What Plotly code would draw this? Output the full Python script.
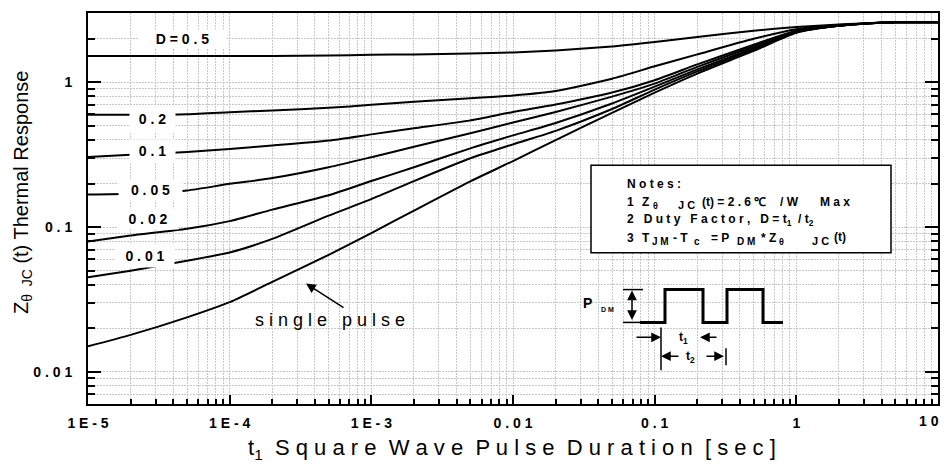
import plotly.graph_objects as go

# pulse duration t1 [sec]
t = [1e-5, 2e-5, 5e-5, 1e-4, 2e-4, 5e-4, 1e-3, 2e-3, 5e-3, 1e-2,
     2e-2, 5e-2, 0.1, 0.2, 0.5, 1, 2, 5, 10]

# Z_theta_JC(t) for each duty factor
z_d050 = [1.52, 1.52, 1.52, 1.52, 1.52, 1.53, 1.55, 1.56, 1.58, 1.61,
          1.66, 1.77, 1.90, 2.06, 2.27, 2.41, 2.51, 2.60, 2.60]
z_d020 = [0.597, 0.597, 0.602, 0.621, 0.640, 0.667, 0.699, 0.733, 0.776, 0.810,
          0.870, 1.06, 1.29, 1.56, 2.00, 2.33, 2.49, 2.60, 2.60]
z_d010 = [0.305, 0.316, 0.330, 0.347, 0.366, 0.396, 0.437, 0.481, 0.546, 0.624,
          0.703, 0.85, 1.035, 1.33, 1.82, 2.27, 2.46, 2.60, 2.60]
z_d005 = [0.168, 0.170, 0.179, 0.199, 0.218, 0.259, 0.304, 0.359, 0.445, 0.528,
          0.624, 0.797, 0.98, 1.28, 1.77, 2.25, 2.46, 2.60, 2.60]
z_d002 = [0.0795, 0.0874, 0.0975, 0.110, 0.132, 0.166, 0.208, 0.259, 0.350, 0.430,
          0.524, 0.714, 0.934, 1.23, 1.72, 2.23, 2.46, 2.60, 2.60]
z_d001 = [0.045, 0.050, 0.0586, 0.0668, 0.0829, 0.120, 0.156, 0.208, 0.299, 0.373,
          0.462, 0.654, 0.891, 1.19, 1.69, 2.22, 2.46, 2.60, 2.60]
z_single = [0.0150, 0.0180, 0.0238, 0.0303, 0.0418, 0.0643, 0.091, 0.130, 0.207, 0.286,
            0.399, 0.616, 0.849, 1.15, 1.65, 2.20, 2.46, 2.60, 2.60]

curves = [z_d050, z_d020, z_d010, z_d005, z_d002, z_d001, z_single]

x_ticks = [1e-5, 1e-4, 1e-3, 1e-2, 0.1, 1, 10]
# last label is drawn separately so it stays inside the window
x_ticktext = ["1 E - 5", "1 E - 4", "1 E - 3", "0 . 0 1", "0 . 1", "1", ""]
last_xlabel = "1 0"
y_ticks = [0.01, 0.1, 1]
y_ticktext = ["0 . 0 1", "0 . 1", "1"]

FONT = "Liberation Sans, Arial, sans-serif"
GRID = "#c8c8c8"

# page is shown with the 8px body margin; plot area in page pixels
OFF = 8
L, R, T, B = 88, 938, 11, 404
W, H = 950 - OFF, 468 - OFF


def px(x):
    return (x - L) / (R - L)


def py(y):
    return (B - y) / (B - T)


x_minor = [m * 10 ** e for e in range(-5, 1) for m in range(2, 10)]
y_minor = [m * 10 ** e for e in range(-3, 1) for m in range(2, 10)]

fig = go.Figure()
for z in curves:
    fig.add_trace(go.Scatter(x=t, y=z, mode="lines",
                             line=dict(color="black", width=2, shape="spline", smoothing=0.6),
                             hoverinfo="skip"))

ann = []


def text(x, y, s, size=13, bold=True, xanchor="center", **kw):
    ann.append(dict(xref="paper", yref="paper", x=px(x), y=py(y), text=s, showarrow=False,
                    xanchor=xanchor, yanchor="middle",
                    font=dict(family=FONT, size=size, color="black",
                              weight="bold" if bold else "normal"), **kw))


text(941, 421, last_xlabel, size=14, xanchor="right")

# curve labels with white boxes
for lab, cx, cy, w, h in [("D = 0 . 5", 182, 37, 87, 18), ("0 . 2", 152, 118, 45, 24),
                          ("0 . 1", 152, 150, 45, 22), ("0 . 0 5", 150, 189, 63, 20),
                          ("0 . 0 2", 148, 218, 60, 20), ("0 . 0 1", 145, 255, 58, 22)]:
    text(cx, cy, lab, size=14, bgcolor="white", width=w, height=h, borderpad=0)

text(330, 320, "s i n g l e   p u l s e", size=18, bold=False)

# notes box, pieces placed along each line
notes = [
    (625, 183, "N o t e s :", 12),
    (625, 201, "1", 12), (640, 201, "Z", 12), (651, 205, "θ", 9), (676, 204, "J C", 11),
    (700, 201, "(t) = 2 . 6 ℃", 12), (778, 201, "/ W", 12), (818, 201, "M a x", 12),
    (625, 219, "2   D u t y   F a c t o r ,   D = t<sub>1</sub>  / t<sub>2</sub>", 12),
    (625, 237, "3", 12), (640, 237, "T", 12), (650, 241, "J M", 10), (671, 237, "- T", 12),
    (692, 241, "c", 10), (709, 237, "= P", 12), (735, 241, "D M", 10), (759, 237, "* Z", 12),
    (777, 241, "θ", 9), (810, 240, "J C", 11), (832, 236, "(t)", 12),
]
for x, y, s, size in notes:
    text(x, y, s, size=size, xanchor="left")

# pulse diagram labels
text(587, 302, "P", size=14)
text(607, 309, "D M", size=7)
text(683, 338, "t<sub>1</sub>", size=12)
text(690, 357, "t<sub>2</sub>", size=12)

# axis titles
text(512, 449, "t<sub>1</sub>  S q u a r e  W a v e  P u l s e  D u r a t i o n  [ s e c ]",
     size=22, bold=False)
text(22, 191, "Z<sub>θ  JC</sub> (t) Thermal Response", size=20, bold=False, textangle=-90)


def arrow(x, y, ax, ay, both=False):
    d = dict(xref="paper", yref="paper", x=px(x), y=py(y), ax=ax, ay=ay, text="",
             showarrow=True, arrowhead=2, arrowsize=1.3, arrowwidth=1.5, arrowcolor="black")
    if both:
        d.update(arrowside="end+start", startarrowhead=2, startarrowsize=1.3)
    ann.append(d)


arrow(306, 283, 39, 25)
arrow(632, 290, 0, 31, both=True)
arrow(661, 337, -26, 0)
arrow(700, 337, 18, 0)
arrow(661, 356, 19, 0)
arrow(724, 356, -19, 0)

shapes = [dict(type="rect", xref="paper", yref="paper", x0=px(591), x1=px(891), y0=py(252), y1=py(164),
               line=dict(color="black", width=1.5), fillcolor="white", layer="above")]


def seg(pts, width=1.5):
    path = "M " + " L ".join(f"{px(a):.5f},{py(b):.5f}" for a, b in pts)
    shapes.append(dict(type="path", xref="paper", yref="paper", path=path,
                       line=dict(color="black", width=width), layer="above"))


seg([(640, 322), (665, 322), (665, 289), (703, 289), (703, 322), (727, 322), (727, 289),
     (763, 289), (763, 322), (783, 322)], width=3)
seg([(623, 289), (643, 289)])
seg([(623, 322), (640, 322)])
seg([(661, 327), (661, 370)])
seg([(726, 348), (726, 365)])

axis_common = dict(type="log", showline=True, linecolor="black", linewidth=2,
                   ticks="inside", tickcolor="black", tickwidth=1.5,
                   showgrid=True, gridcolor=GRID, gridwidth=1, griddash="2px,1px",
                   tickfont=dict(family=FONT, size=14, color="black", weight="bold"),
                   ticklabeloverflow="allow", zeroline=False)

fig.update_layout(
    width=W, height=H,
    margin=dict(l=L - OFF, r=950 - R, t=T - OFF, b=H - (B - OFF)),
    plot_bgcolor="white", paper_bgcolor="white",
    showlegend=False,
    xaxis=dict(axis_common, range=[-5, 1], tickvals=x_ticks, ticktext=x_ticktext,
               ticklen=9, mirror=True, ticklabelstandoff=5,
               minor=dict(tickvals=x_minor, ticks="inside", ticklen=5, tickcolor="black",
                          showgrid=True, gridcolor=GRID, griddash="2px,1px")),
    yaxis=dict(axis_common, range=[-2.222, 0.479], tickvals=y_ticks, ticktext=y_ticktext,
               ticklen=13, mirror="ticks", ticklabelstandoff=11,
               minor=dict(tickvals=y_minor, ticks="inside", ticklen=7, tickcolor="black",
                          showgrid=True, gridcolor=GRID, griddash="2px,1px")),
    annotations=ann,
    shapes=shapes,
)

fig.write_html("out.html")
